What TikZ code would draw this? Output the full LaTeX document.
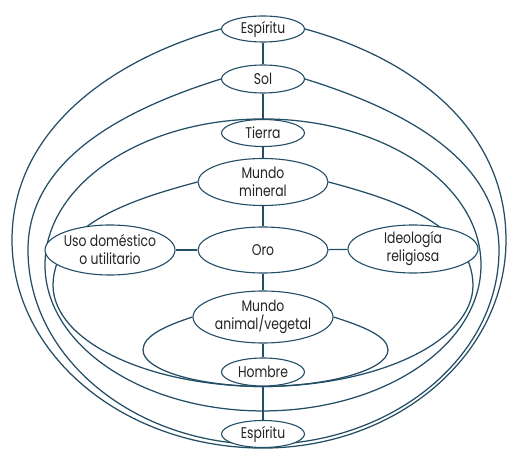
\documentclass[tikz,border=0pt]{standalone}
\usepackage{fontspec}
\setmainfont[FakeStretch=0.8]{Poppins}
\usetikzlibrary{shapes.geometric,backgrounds}
\definecolor{lin}{RGB}{35,78,102}
\definecolor{txt}{RGB}{35,35,35}
\begin{document}
\begin{tikzpicture}[x=1pt,y=1pt,
  box/.style={ellipse,draw=lin,line width=1.1pt,fill=white,inner xsep=-25pt,inner ysep=-10pt,
    text=txt,font=\fontsize{15.5}{18}\selectfont,align=center},
  loopline/.style={draw=lin,line width=1.25pt},
  link/.style={draw=lin,line width=1.1pt}]
\useasboundingbox (0,0) rectangle (509,450);
\node[box,minimum width=83pt,minimum height=26pt] (esp1) at (263,421) {Espíritu};
\node[box,minimum width=83pt,minimum height=28pt] (sol) at (263,371) {Sol};
\node[box,minimum width=83pt,minimum height=27pt] (tierra) at (263,317) {Tierra};
\node[box,minimum width=130pt,minimum height=47pt] (mm) at (263,268) {Mundo\\mineral};
\node[box,minimum width=130pt,minimum height=46pt] (oro) at (263,200) {Oro};
\node[box,minimum width=130pt,minimum height=50pt] (uso) at (110,200) {Uso doméstico\\o utilitario};
\node[box,minimum width=130pt,minimum height=48pt] (ideo) at (413,201) {Ideología\\religiosa};
\node[box,minimum width=140pt,minimum height=52pt] (mav) at (263,133) {Mundo\\animal/vegetal};
\node[box,minimum width=83pt,minimum height=28pt] (hombre) at (263,78) {Hombre};
\node[box,minimum width=83pt,minimum height=27pt] (esp2) at (263,16) {Espíritu};

\draw[link] (esp1) -- (sol);
\draw[link] (sol) -- (tierra);
\draw[link] (tierra) -- (mm);
\draw[link] (mm) -- (oro);
\draw[link] (oro) -- (mav);
\draw[link] (mav) -- (hombre);
\draw[link] (hombre) -- (esp2);
\draw[link] (uso) -- (oro);
\draw[link] (oro) -- (ideo);

\begin{pgfonlayer}{background}
% Espiritu loop
\draw[loopline] (esp1.west) .. controls (112,391) and (12,320) .. (12,210)
  .. controls (12,95) and (124,2) .. (esp2.south)
  .. controls (397,2) and (506,95) .. (506,210)
  .. controls (506,320) and (415,391) .. (esp1.east);
% Sol loop
\draw[loopline] (sol.west) .. controls (122,340) and (28,290) .. (28,200)
  .. controls (28,93) and (133,6) .. ([yshift=3.5pt]esp2.south)
  .. controls (393,6) and (499,93) .. (499,200)
  .. controls (499,290) and (405,340) .. (sol.east);
% Tierra loop
\draw[loopline] (tierra.north) arc[start angle=90,end angle=450,x radius=218,y radius=146];
% Mundo mineral loop
\draw[loopline] (mm.west) .. controls (130,250) and (54,225) .. (53,165)
  .. controls (53,109) and (147,64) .. (hombre.south)
  .. controls (379,64) and (473,109) .. (473,165)
  .. controls (472,225) and (396,250) .. (mm.east);
% Mundo animal/vegetal loop
\draw[loopline] (mav.west) .. controls (165,124) and (143,114) .. (143,100)
  .. controls (143,80) and (197,64) .. (hombre.south)
  .. controls (329,64) and (388,80) .. (388,100)
  .. controls (388,114) and (362,124) .. (mav.east);
\end{pgfonlayer}
\end{tikzpicture}
\end{document}
